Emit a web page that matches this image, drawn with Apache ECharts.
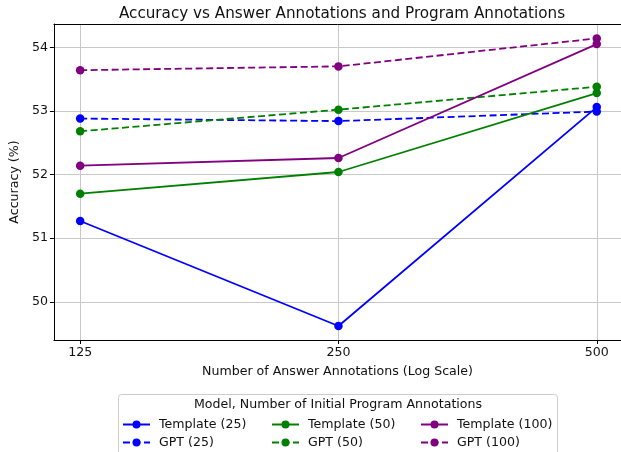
<!DOCTYPE html>
<html lang="en">
<head>
    <meta charset="UTF-8">
    <title>Accuracy vs Answer Annotations</title>
    <script src="https://cdn.jsdelivr.net/npm/echarts@6/dist/echarts.min.js"></script>
    <style>
        html, body { margin: 0; padding: 0; background: #fff; }
        #main { width: 621px; height: 452px; }
    </style>
</head>
<body>
    <div id="main"></div>
    <script>
        // answer annotations (x, log scale)
        var answerCounts = [125, 250, 500];
        var yTicks = [50, 51, 52, 53, 54];

        // accuracy (%) per model / initial program annotations
        var template25 = [51.27, 49.62, 53.06];
        var gpt25 = [52.88, 52.84, 52.99];
        var template50 = [51.70, 52.04, 53.28];
        var gpt50 = [52.68, 53.02, 53.38];
        var template100 = [52.14, 52.26, 54.05];
        var gpt100 = [53.64, 53.70, 54.14];

        var FONT = 'DejaVu Sans';
        var FS = 12.6;
        var BLUE = '#0000ff', GREEN = '#008000', PURPLE = '#800080';

        function pairs(vals) {
            return answerCounts.map(function (x, i) { return [x, vals[i]]; });
        }
        function makeSeries(name, vals, color, dashed) {
            return {
                name: name,
                type: 'line',
                data: pairs(vals),
                symbol: 'circle',
                symbolSize: 8.5,
                showSymbol: true,
                animation: false,
                color: color,
                itemStyle: { color: color },
                lineStyle: { color: color, width: 1.8, type: dashed ? [7, 3.5] : 'solid' },
                z: 3
            };
        }

        var myChart = echarts.init(document.getElementById('main'));
        var legendText = { fontFamily: FONT, fontSize: FS, color: '#111', padding: [0, 0, 0, 4] };
        function legendCol(left, names) {
            return {
                orient: 'vertical',
                left: left,
                top: 418,
                height: 40,
                padding: 0,
                itemWidth: 27,
                itemHeight: 10,
                itemGap: 5,
                textStyle: legendText,
                data: names
            };
        }

        var option = {
            backgroundColor: '#fff',
            title: {
                text: 'Accuracy vs Answer Annotations and Program Annotations',
                left: 337,
                top: 2,
                textAlign: 'center',
                textStyle: { fontFamily: FONT, fontSize: 15.2, fontWeight: 'normal', color: '#111' }
            },
            grid: {
                left: 53, right: 0, top: 24, bottom: 112,
                show: false
            },
            xAxis: [{
                type: 'log',
                logBase: 2,
                min: 116.5,
                max: 533.6,
                name: 'Number of Answer Annotations (Log Scale)',
                nameLocation: 'middle',
                nameGap: 25,
                nameTextStyle: { fontFamily: FONT, fontSize: FS, color: '#111' },
                axisLine: { lineStyle: { color: '#000' } },
                axisTick: { show: true, length: 4, lineStyle: { color: '#000' }, customValues: answerCounts },
                axisLabel: { fontFamily: FONT, fontSize: FS, color: '#111', margin: 6, customValues: answerCounts, formatter: function (v) { return String(Math.round(v)); } },
                splitLine: { show: true, lineStyle: { color: '#c8c8c8', width: 1 }, customValues: answerCounts }
            }, {
                // top spine only
                type: 'log',
                logBase: 2,
                min: 116.5,
                max: 533.6,
                position: 'top',
                axisLine: { show: true, lineStyle: { color: '#000' } },
                axisTick: { show: false },
                axisLabel: { show: false },
                splitLine: { show: false }
            }],
            yAxis: {
                type: 'value',
                min: 49.4,
                max: 54.366,
                name: 'Accuracy (%)',
                nameLocation: 'middle',
                nameGap: 28,
                nameTextStyle: { fontFamily: FONT, fontSize: FS, color: '#111' },
                axisLine: { show: true, lineStyle: { color: '#000' } },
                axisTick: { show: true, length: 4, lineStyle: { color: '#000' }, customValues: yTicks },
                axisLabel: { fontFamily: FONT, fontSize: FS, color: '#111', margin: 6, customValues: yTicks },
                splitLine: { show: true, lineStyle: { color: '#c8c8c8', width: 1 }, customValues: yTicks }
            },
            legend: [
                legendCol(122, ['Template (25)', 'GPT (25)']),
                legendCol(271, ['Template (50)', 'GPT (50)']),
                legendCol(420, ['Template (100)', 'GPT (100)'])
            ],
            graphic: [
                {
                    type: 'rect',
                    shape: { x: 118.5, y: 394.5, width: 439, height: 80, r: 3 },
                    style: { fill: '#fff', stroke: '#cccccc', lineWidth: 1 },
                    z: -1
                },
                {
                    type: 'text',
                    x: 338, y: 405,
                    style: { text: 'Model, Number of Initial Program Annotations', fontFamily: FONT, fontSize: FS, fill: '#111', textAlign: 'center', textVerticalAlign: 'middle' }
                }
            ],
            series: [
                makeSeries('Template (25)', template25, BLUE, false),
                makeSeries('GPT (25)', gpt25, BLUE, true),
                makeSeries('Template (50)', template50, GREEN, false),
                makeSeries('GPT (50)', gpt50, GREEN, true),
                makeSeries('Template (100)', template100, PURPLE, false),
                makeSeries('GPT (100)', gpt100, PURPLE, true)
            ]
        };
        myChart.setOption(option);
    </script>
</body>
</html>
